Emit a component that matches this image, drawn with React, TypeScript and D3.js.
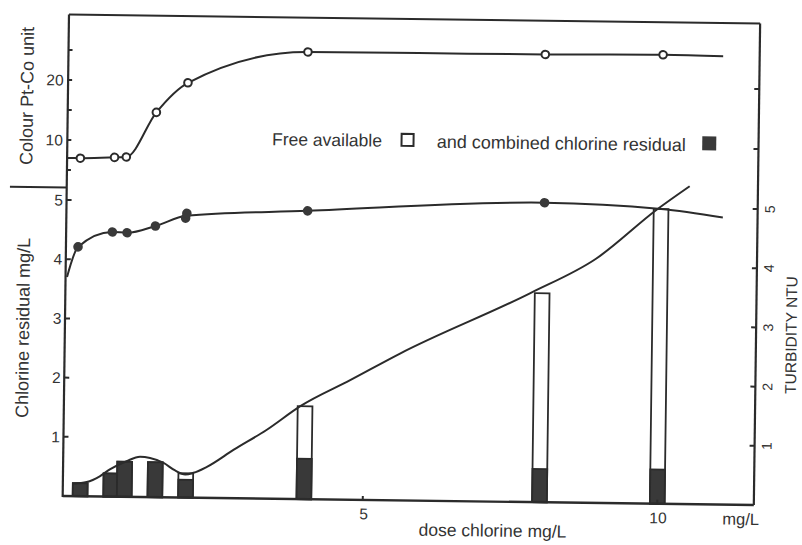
import React from "react";
import * as d3 from "d3";

// ---------- data ----------
// colour (Pt-Co units) vs chlorine dose (mg/L), open circles
const colourDose = [0.13, 0.71, 0.91, 1.41, 1.94, 3.97, 8.0, 10.0];
const colourValue = [7.0, 7.2, 7.3, 14.8, 19.8, 25.2, 25.3, 25.5];
const colourCurveStart = [-0.09, 7.0];
const colourCurveEnd = [11.02, 25.4];

// turbidity (NTU) vs dose, filled dots
const turbDose = [0.11, 0.69, 0.94, 1.42, 1.93, 1.95, 4.0, 8.02];
const turbValue = [4.21, 4.47, 4.46, 4.58, 4.72, 4.8, 4.87, 5.06];
const turbCurveDose = [-0.07, 0.11, 0.69, 0.94, 1.42, 1.94, 4.0, 8.02, 10.0, 11.05];
const turbCurveValue = [3.7, 4.21, 4.47, 4.46, 4.58, 4.76, 4.87, 5.06, 4.98, 4.85];

// total chlorine residual curve (mg/L) through the bar tops
const residualCurveDose = [0.08, 0.31, 0.53, 0.7, 0.98, 1.21, 1.38, 1.61, 1.8, 1.98, 2.12, 2.34, 2.8, 3.35, 3.92, 4.76, 5.6, 7.8, 8.9, 9.93, 10.48];
const residualCurveValue = [0.21, 0.24, 0.34, 0.46, 0.6, 0.68, 0.66, 0.58, 0.46, 0.39, 0.42, 0.52, 0.82, 1.16, 1.57, 2.02, 2.48, 3.53, 4.12, 4.97, 5.37];

// bars: free + combined (total) and combined chlorine residual (mg/L)
const barDose = [0.2, 0.72, 0.95, 1.47, 1.99, 4.0, 8.0, 10.0];
const barTotal = [0.22, 0.39, 0.59, 0.59, 0.41, 1.57, 3.53, 4.98];
const barCombined = [0.22, 0.39, 0.59, 0.59, 0.3, 0.68, 0.56, 0.58];

// ticks
const doseTickValues = [5, 10];
const colourTickValues = [5, 10, 15, 20, 25];
const colourTickLabels = [10, 20];
const colourRightTicks = [10, 20];
const residualTickValues = [1, 2, 3, 4, 5];
const turbidityTickValues = [1, 2, 3, 4, 5];

const INK = "#2b2b2b";
const FILL = "#393939";
const FONT = "'Liberation Sans', Arial, Helvetica, sans-serif";

export default function App() {
  const x = d3.scaleLinear().domain([0, 10]).range([71.4, 660.4]);
  const yR = d3.scaleLinear().domain([0, 5]).range([500.5, 204.5]);
  const yC = d3.scaleLinear().domain([0, 25]).range([204.5, 54.5]);

  const xLeft = x(-0.095);
  const xRight = x(11.64);
  const yTop = 19;
  const yBottom = yR(0);

  const lineR = d3
    .line<[number, number]>()
    .x((d) => x(d[0]))
    .y((d) => yR(d[1]))
    .curve(d3.curveMonotoneX);
  const lineC = d3
    .line<[number, number]>()
    .x((d) => x(d[0]))
    .y((d) => yC(d[1]))
    .curve(d3.curveMonotoneX);

  const colourPts: [number, number][] = [
    [colourCurveStart[0], colourCurveStart[1]],
    ...colourDose.map((d, i) => [d, colourValue[i]] as [number, number]),
    [colourCurveEnd[0], colourCurveEnd[1]],
  ];
  const turbPts: [number, number][] = turbCurveDose.map((d, i) => [d, turbCurveValue[i]]);
  const resPts: [number, number][] = residualCurveDose.map((d, i) => [d, residualCurveValue[i]]);

  const barW = x(0.25) - x(0);

  return (
    <svg
      width={802}
      height={545}
      style={{ position: "fixed", left: 0, top: 0, background: "#fff" }}
      fontFamily={FONT}
    >
      <rect x={0} y={0} width={802} height={545} fill="#fff" />
      <g transform="rotate(0.75 410 260)">
        {/* bars */}
        {barDose.map((d, i) => (
          <g key={"bar" + i}>
            <rect
              x={x(d) - barW / 2}
              y={yR(barTotal[i])}
              width={barW}
              height={yBottom - yR(barTotal[i])}
              fill="#fff"
              stroke={INK}
              strokeWidth={1.8}
            />
            <rect
              x={x(d) - barW / 2}
              y={yR(barCombined[i])}
              width={barW}
              height={yBottom - yR(barCombined[i])}
              fill={FILL}
              stroke={INK}
              strokeWidth={1.8}
            />
          </g>
        ))}

        {/* curves */}
        <path d={lineR(resPts) || ""} fill="none" stroke={INK} strokeWidth={2} />
        <path d={lineR(turbPts) || ""} fill="none" stroke={INK} strokeWidth={2} />
        <path d={lineC(colourPts) || ""} fill="none" stroke={INK} strokeWidth={2} />

        {/* markers */}
        {colourDose.map((d, i) => (
          <circle key={"c" + i} cx={x(d)} cy={yC(colourValue[i])} r={3.8} fill="#fff" stroke={INK} strokeWidth={2} />
        ))}
        {turbDose.map((d, i) => (
          <circle key={"t" + i} cx={x(d)} cy={yR(turbValue[i])} r={4.8} fill={FILL} />
        ))}

        {/* frame */}
        <line x1={xLeft} y1={yTop} x2={xRight} y2={yTop} stroke={INK} strokeWidth={2} />
        <line x1={xLeft} y1={yTop} x2={xLeft} y2={yBottom + 1} stroke={INK} strokeWidth={2.2} />
        <line x1={xRight} y1={yTop} x2={xRight} y2={yBottom} stroke={INK} strokeWidth={2.2} />
        <line x1={xLeft} y1={yBottom} x2={xRight} y2={yBottom} stroke={INK} strokeWidth={2.4} />
        <line x1={9} y1={192} x2={xLeft} y2={192} stroke={INK} strokeWidth={2} />

        {/* left ticks: colour */}
        {colourTickValues.map((v) => (
          <line key={"lc" + v} x1={xLeft} x2={xLeft + 4} y1={yC(v)} y2={yC(v)} stroke={INK} strokeWidth={2} />
        ))}
        {colourTickLabels.map((v) => (
          <text key={"lcl" + v} x={xLeft - 4.5} y={yC(v)} dy="0.36em" textAnchor="end" fontSize={15.5} fill="#333">
            {v}
          </text>
        ))}
        {colourRightTicks.map((v) => (
          <line key={"rc" + v} x1={xRight} x2={xRight - 5} y1={yC(v)} y2={yC(v)} stroke={INK} strokeWidth={2} />
        ))}

        {/* left ticks: chlorine residual */}
        {residualTickValues.map((v) => (
          <g key={"lr" + v}>
            <line x1={xLeft} x2={xLeft + 5} y1={yR(v)} y2={yR(v)} stroke={INK} strokeWidth={2} />
            <text x={xLeft - 3.5} y={yR(v)} dy="0.36em" textAnchor="end" fontSize={15.5} fill="#333">
              {v}
            </text>
          </g>
        ))}

        {/* right ticks: turbidity */}
        {turbidityTickValues.map((v) => (
          <g key={"rt" + v}>
            <line x1={xRight} x2={xRight - 5} y1={yR(v)} y2={yR(v)} stroke={INK} strokeWidth={2} />
            <text
              transform={`translate(${xRight + 17},${yR(v)}) rotate(-90)`}
              textAnchor="middle"
              fontSize={14}
              fill="#333"
            >
              {v}
            </text>
          </g>
        ))}

        {/* bottom ticks */}
        {doseTickValues.map((v) => (
          <g key={"bt" + v}>
            <line x1={x(v)} x2={x(v)} y1={yBottom} y2={yBottom - 4} stroke={INK} strokeWidth={2} />
            <text x={x(v) + 1} y={520} textAnchor="middle" fontSize={15.5} fill="#333">
              {v}
            </text>
          </g>
        ))}
        <text x={744} y={520.5} textAnchor="middle" fontSize={16.5} fill="#333">
          mg/L
        </text>
        <text x={496} y={535.5} textAnchor="middle" fontSize={17.5} fill="#333">
          dose chlorine mg/L
        </text>

        {/* axis titles */}
        <text transform="translate(31,101) rotate(-90)" textAnchor="middle" fontSize={18} fill="#333">
          Colour Pt-Co unit
        </text>
        <text transform="translate(30,333) rotate(-90)" textAnchor="middle" fontSize={18} fill="#333">
          Chlorine residual mg/L
        </text>
        <text transform="translate(797.5,330) rotate(-90)" textAnchor="middle" fontSize={15.5} fill="#333">
          TURBIDITY NTU
        </text>

        {/* legend */}
        <text x={270.5} y={147} fontSize={17.5} fill="#333">
          Free available
        </text>
        <rect x={400} y={134} width={12} height={12} fill="#fff" stroke={INK} strokeWidth={2} />
        <text x={435.2} y={147.5} fontSize={18} fill="#333">
          and combined chlorine residual
        </text>
        <rect x={700.7} y={132.5} width={14} height={14} fill={FILL} />
      </g>
    </svg>
  );
}
